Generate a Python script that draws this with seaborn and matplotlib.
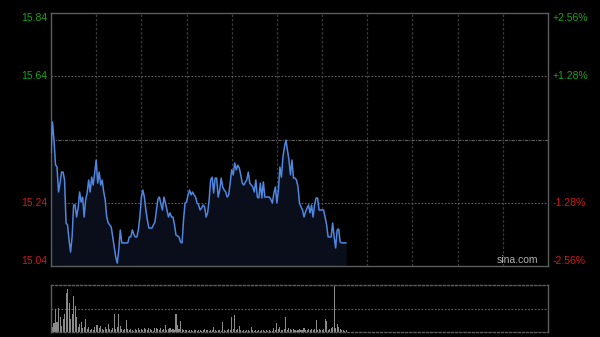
import numpy as np
import pandas as pd
import matplotlib
matplotlib.use("Agg")
import matplotlib.pyplot as plt
import matplotlib.transforms as mtransforms
import seaborn as sns

# ---------------- data ----------------
prev_close = 15.44
price_ticks = [15.84, 15.64, 15.24, 15.04]
price_labels = ["15.84", "15.64", "15.24", "15.04"]
pct_labels = ["+2.56%", "+1.28%", "-1.28%", "-2.56%"]

prices = [
    15.397, 15.495, 15.438, 15.360, 15.353, 15.274, 15.302, 15.337, 15.337, 15.312,
    15.176, 15.170, 15.122, 15.084, 15.132, 15.233, 15.233, 15.195, 15.223, 15.274,
    15.242, 15.258, 15.195, 15.249, 15.271, 15.312, 15.274, 15.321, 15.296, 15.334,
    15.375, 15.302, 15.337, 15.296, 15.312, 15.274, 15.249, 15.195, 15.176, 15.170,
    15.163, 15.132, 15.100, 15.068, 15.049, 15.091, 15.154, 15.113, 15.113, 15.113,
    15.113, 15.113, 15.132, 15.132, 15.154, 15.140, 15.132, 15.132, 15.154, 15.195,
    15.258, 15.280, 15.258, 15.217, 15.185, 15.160, 15.160, 15.160, 15.170, 15.179,
    15.217, 15.252, 15.258, 15.235, 15.217, 15.258, 15.239, 15.217, 15.195, 15.208,
    15.195, 15.195, 15.170, 15.138, 15.135, 15.132, 15.116, 15.113, 15.185, 15.239,
    15.242, 15.265, 15.280, 15.265, 15.274, 15.265, 15.258, 15.239, 15.233, 15.217,
    15.223, 15.233, 15.227, 15.195, 15.208, 15.249, 15.312, 15.321, 15.271, 15.318,
    15.318, 15.258, 15.280, 15.318, 15.290, 15.280, 15.274, 15.258, 15.265, 15.306,
    15.344, 15.328, 15.366, 15.344, 15.359, 15.350, 15.328, 15.302, 15.296, 15.305,
    15.312, 15.337, 15.302, 15.296, 15.290, 15.274, 15.312, 15.258, 15.255, 15.302,
    15.255, 15.306, 15.258, 15.258, 15.258, 15.258, 15.250, 15.239, 15.271, 15.290,
    15.239, 15.280, 15.353, 15.321, 15.385, 15.416, 15.438, 15.407, 15.375, 15.328,
    15.375, 15.318, 15.318, 15.312, 15.290, 15.239, 15.227, 15.217, 15.195, 15.211,
    15.223, 15.233, 15.208, 15.233, 15.195, 15.233, 15.255, 15.255, 15.217, 15.217,
    15.217, 15.217, 15.195, 15.170, 15.132, 15.132, 15.132, 15.176, 15.132, 15.097,
    15.154, 15.157, 15.116, 15.113, 15.113, 15.113, 15.113,
]

volumes = [
    13, 5, 9, 24, 10, 25, 15, 6, 13, 18, 40, 44, 30, 13, 18, 37, 27, 15, 5, 8,
    10, 4, 5, 13, 3, 5, 2, 3, 2, 5, 7, 7, 4, 6, 3, 2, 5, 3, 8, 3,
    2, 4, 18, 3, 5, 18, 6, 3, 2, 3, 12, 3, 2, 3, 2, 1, 3, 2, 4, 2,
    3, 2, 4, 3, 2, 4, 3, 2, 1, 4, 4, 3, 2, 4, 2, 3, 7, 2, 3, 4,
    2, 3, 2, 18, 7, 3, 11, 3, 2, 2, 2, 1, 2, 2, 1, 2, 2, 1, 2, 2,
    1, 2, 3, 2, 2, 1, 2, 2, 5, 2, 1, 2, 2, 1, 10, 2, 1, 2, 3, 2,
    15, 3, 17, 2, 3, 6, 2, 1, 2, 1, 2, 2, 1, 5, 2, 1, 2, 1, 2, 1,
    2, 2, 1, 2, 1, 2, 1, 1, 4, 2, 9, 3, 5, 2, 2, 3, 15, 2, 4, 3,
    2, 3, 2, 1, 2, 3, 2, 2, 4, 2, 2, 3, 2, 3, 2, 3, 12, 2, 3, 2,
    2, 3, 13, 11, 2, 3, 4, 5, 48, 4, 8, 5, 3, 2, 2, 1, 2,
]
volumes = [v * 2000 for v in volumes]
minutes = list(range(len(prices)))
total_minutes = 330

df = pd.DataFrame({"minute": minutes, "price": prices, "volume": volumes})

# ---------------- style ----------------
sns.set_theme(style="dark")
plt.rcParams["font.family"] = ["Liberation Sans", "DejaVu Sans"]
bg = "black"
grid_c = "#3a3a3a"
frame_c = "#5c5c5c"
green = "#1aa31a"
red = "#d01a1a"
line_c = "#4f86e0"

fig = plt.figure(figsize=(6, 3.37), dpi=100, facecolor=bg)
ax = fig.add_axes([51 / 600, 71 / 337, 497 / 600, 253 / 337], facecolor=bg)
axv = fig.add_axes([51 / 600, 5 / 337, 497 / 600, 47 / 337], facecolor=bg)

# ---------------- price panel ----------------
ymin, ymax = 15.04, 15.84
ax.fill_between(df["minute"], df["price"], ymin, color="#090e1a", alpha=1.0, lw=0, zorder=1)
sns.lineplot(data=df, x="minute", y="price", ax=ax, color=line_c, lw=1.1, zorder=3)
ax.set_xlim(0, total_minutes)
ax.set_ylim(ymin, ymax)

for m in range(30, total_minutes, 30):
    ax.axvline(m, color=grid_c, lw=0.9, ls=(0, (2, 1.5)), zorder=0)
for v in [15.64, 15.24]:
    ax.axhline(v, color="#626262", lw=0.8, ls=(0, (1.5, 1.5)), zorder=0)
ax.axhline(prev_close, color="#626262", lw=0.8, ls=(0, (3, 1, 1, 1)), zorder=0)

ax.set_xticks([])
ax.set_yticks([])
ax.set_xlabel("")
ax.set_ylabel("")
ax.grid(False)
for s in ax.spines.values():
    s.set_visible(True)
    s.set_color(frame_c)
    s.set_linewidth(1.0)

trans_l = mtransforms.blended_transform_factory(ax.transAxes, ax.transData)
vas = ["top", "center", "center", "bottom"]
cols = [green, green, red, red]
for v, lab, pl, va, c in zip(price_ticks, price_labels, pct_labels, vas, cols):
    ax.text(-0.008, v, lab, transform=trans_l, ha="right", va=va, color=c, fontsize=7.5)
    ax.text(1.01, v, pl, transform=trans_l, ha="left", va=va, color=c, fontsize=7.5)

ax.text(0.98, 0.005, "sina.com", transform=ax.transAxes, ha="right", va="bottom",
        color="#b0b0b0", fontsize=7.5)

# ---------------- volume panel ----------------
sns.barplot(data=df, x="minute", y="volume", ax=axv, native_scale=True,
            color="#8a8a8a", width=0.7, errorbar=None, saturation=1,
            edgecolor="none", linewidth=0, zorder=2)
axv.set_xlim(0, total_minutes)
vmax = max(volumes)
axv.set_ylim(0, vmax)
axv.axhline(vmax / 2, color="#626262", lw=0.8, ls=(0, (1.5, 1.5)), zorder=0)
axv.set_xticks([])
axv.set_yticks([])
axv.set_xlabel("")
axv.set_ylabel("")
axv.grid(False)
for name, s in axv.spines.items():
    s.set_visible(True)
    s.set_color(frame_c)
    s.set_linewidth(1.0)
    if name in ("top", "bottom"):
        s.set_linestyle((0, (1.5, 1.5)))

fig.savefig("out.png", dpi=100, facecolor=bg)
